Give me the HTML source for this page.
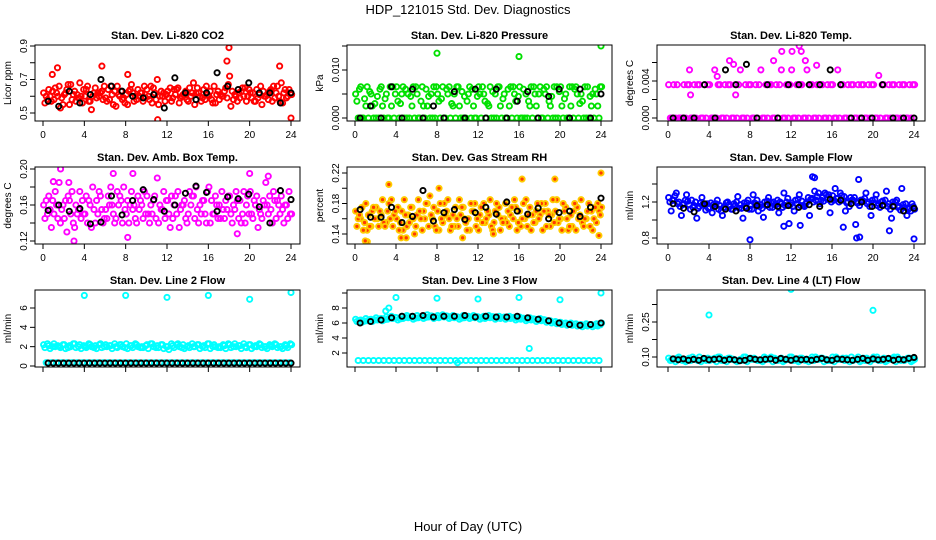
<!DOCTYPE html>
<html><head><meta charset="utf-8">
<style>
html,body{margin:0;padding:0;background:#fff;}
svg{display:block;font-family:"Liberation Sans",sans-serif;}
</style></head>
<body>
<svg id="chart" width="936" height="540" viewBox="0 0 936 540" xmlns="http://www.w3.org/2000/svg">
<rect width="936" height="540" fill="#fff"/>
<text x="468" y="14" text-anchor="middle" font-size="13">HDP_121015  Std. Dev. Diagnostics</text>
<text x="468" y="531" text-anchor="middle" font-size="13">Hour of Day (UTC)</text>
</svg>
<script>
// ---- Data ----
const xTicks = [0,4,8,12,16,20,24];
const xTickLabels = ["0","4","8","12","16","20","24"];

const co2A = [0.62,0.64,0.58,0.66,0.61,0.55,0.63,0.68,0.60,0.57,0.65,0.62,0.59,0.66,0.54,0.63,0.61,0.67,0.58,0.62,0.64,0.56,0.70,0.60,0.63,0.59,0.65,0.61,0.57,0.68,0.62,0.64,0.60,0.66,0.58,0.63,0.72,0.61,0.59,0.65,0.62,0.57,0.66,0.60,0.64,0.62,0.68,0.59,0.61];
const co2B = [0.56,0.60,0.65,0.53,0.62,0.67,0.57,0.60,0.64,0.52,0.59,0.63,0.57,0.61,0.66,0.58,0.55,0.62,0.64,0.57,0.60,0.65,0.55,0.62,0.59,0.64,0.56,0.61,0.65,0.55,0.60,0.58,0.63,0.56,0.61,0.65,0.54,0.60,0.63,0.57,0.59,0.64,0.55,0.61,0.57,0.66,0.56,0.60,0.63];
const co2C = [0.60,0.57,0.62,0.59,0.64,0.58,0.61,0.56,0.66,0.60,0.62,0.58,0.64,0.55,0.61,0.59,0.63,0.57,0.60,0.66,0.58,0.62,0.60,0.57,0.65,0.61,0.59,0.63,0.60,0.62,0.57,0.66,0.58,0.61,0.60,0.59,0.63,0.57,0.65,0.60,0.62,0.59,0.63,0.58,0.66,0.60,0.62,0.64,0.57];
const co2D = [0.58,0.63,0.60,0.55,0.67,0.61,0.59,0.64,0.57,0.62,0.60,0.66,0.58,0.63,0.60,0.56,0.64,0.60,0.62,0.59,0.66,0.58,0.63,0.61,0.57,0.64,0.60,0.58,0.62,0.65,0.59,0.61,0.56,0.63,0.60,0.67,0.58,0.62,0.60,0.64,0.57,0.61,0.60,0.63,0.59,0.57,0.64,0.62,0.60];
const co2OutX = [1.4,5.7,17.8,18.0,11.1,24.0,22.9,0.9,8.2];
const co2OutY = [0.77,0.78,0.81,0.89,0.46,0.47,0.78,0.73,0.73];
const co2Black = [0.57,0.54,0.63,0.56,0.61,0.70,0.66,0.63,0.60,0.59,0.61,0.53,0.71,0.62,0.58,0.62,0.74,0.66,0.64,0.68,0.62,0.62,0.56,0.62];

const presA = [0.005,0.0065,0.0025,0.005,0,0.0065,0.005,0.0025,0.0065,0.005,0,0.0025,0.005,0.0065,0.0025,0,0.005,0.0065,0.005,0.0025,0.0065,0,0.005,0.0025,0.0065,0.005,0.0025,0,0.0065,0.005,0.0025,0.005,0.0065,0,0.0025,0.005,0.0065,0.005,0.0025,0,0.0065,0.005,0.0025,0.0065,0.005,0,0.0025,0.005,0.0065];
const presB = [0.0035,0,0.0065,0.0025,0.0045,0.0025,0,0.0065,0.0035,0.0065,0.005,0.0065,0,0.0025,0.0045,0.0065,0.0035,0,0.0065,0.005,0.0025,0.0045,0.0065,0,0.005,0.0035,0.0065,0.005,0.0025,0,0.0065,0.0035,0,0.005,0.0065,0.0025,0,0.0065,0.0045,0.0065,0.0025,0,0.0065,0.005,0.0035,0.0065,0.005,0.0025,0];
const presC = [0,0,0,0,0,0,0,0,0,0,0,0,0,0,0,0,0,0,0,0,0,0,0,0,0,0,0,0,0,0,0,0,0,0,0,0,0,0,0,0,0,0,0,0,0,0,0,0,0];
const presD = [0.006,0.004,0.0055,0.003,0.006,0.004,0.0065,0.005,0.003,0.006,0.0045,0.0065,0.0035,0.006,0.005,0.0065,0.004,0.006,0.003,0.0065,0.0055,0.0035,0.006,0.0045,0.0065,0.003,0.0055,0.0065,0.004,0.006,0.0065,0.0045,0.006,0.0035,0.0065,0.005,0.006,0.0035,0.0065,0.0055,0.004,0.0065,0.006,0.003,0.0065,0.0045,0.006,0.0065,0.004];
const presOutX = [8,16,24];
const presOutY = [0.0135,0.0128,0.015];
const presBlack = [0,0.0025,0,0.0065,0,0.006,0,0.0025,0,0.0055,0,0.006,0,0.006,0,0.0035,0.0055,0,0.0045,0.006,0,0.006,0,0.005];

const tempA = [0.0036,0.0036,0,0.0036,0.0036,0.0036,0.0036,0.0036,0.0036,0.0052,0.0036,0.0036,0.0036,0.0036,0.0052,0.0036,0.0036,0.0036,0.0052,0.0036,0.0036,0.0036,0.0052,0.0036,0.0052,0.0036,0.0036,0.0052,0.0036,0.0036,0.0036,0.0036,0.0036,0.0052,0.0036,0.0036,0.0036,0.0036,0.0036,0.0036,0.0036,0.0046,0.0036,0.0036,0.0036,0.0036,0.0036,0.0036,0.0036];
const tempB = [0,0,0,0,0,0,0,0,0,0,0,0,0,0,0,0,0,0,0,0,0,0,0,0,0,0,0,0,0,0,0,0,0,0,0,0,0,0,0,0,0,0,0,0,0,0,0,0,0];
const tempC = [0,0.0036,0,0.0036,0,0.0036,0,0.0036,0,0.0036,0,0.0036,0,0.0036,0,0.0036,0,0.0036,0,0.0036,0,0.0036,0,0.0036,0,0.0036,0,0.0036,0,0.0036,0,0.0036,0,0.0036,0,0.0036,0,0.0036,0,0.0036,0,0.0036,0,0.0036,0,0.0036,0,0.0036,0];
const tempOutX = [2.1,2.2,6.0,6.4,9.3,10.3,11.1,12.1,12.8,13.0,13.4,14.5,4.8,6.6];
const tempOutY = [0.0052,0.0025,0.0062,0.0058,0.0085,0.0062,0.0072,0.0072,0.0078,0.0072,0.0062,0.0057,0.0045,0.0025];
const tempBlack = [0,0,0,0.0036,0,0.0052,0.0036,0.0058,0,0.0036,0,0.0036,0.0036,0.0036,0.0036,0.0052,0.0036,0,0,0,0.0036,0,0,0];

const ambA = [0.160,0.170,0.150,0.185,0.145,0.165,0.135,0.175,0.150,0.160,0.140,0.170,0.155,0.180,0.145,0.165,0.150,0.175,0.140,0.160,0.170,0.150,0.190,0.155,0.165,0.145,0.175,0.160,0.150,0.170,0.140,0.165,0.180,0.150,0.160,0.145,0.170,0.155,0.165,0.140,0.175,0.160,0.150,0.185,0.155,0.145,0.170,0.160,0.150];
const ambB = [0.145,0.155,0.175,0.140,0.165,0.150,0.160,0.145,0.170,0.135,0.165,0.155,0.145,0.160,0.175,0.140,0.165,0.155,0.170,0.145,0.150,0.165,0.140,0.175,0.150,0.160,0.135,0.165,0.175,0.145,0.160,0.150,0.140,0.170,0.145,0.165,0.150,0.175,0.140,0.160,0.150,0.170,0.145,0.160,0.140,0.165,0.155,0.145,0.170];
const ambC = [0.165,0.135,0.160,0.155,0.130,0.175,0.150,0.165,0.140,0.180,0.150,0.140,0.170,0.150,0.160,0.180,0.140,0.160,0.155,0.175,0.140,0.170,0.160,0.145,0.135,0.170,0.155,0.145,0.160,0.180,0.150,0.140,0.165,0.160,0.175,0.155,0.140,0.165,0.150,0.170,0.145,0.135,0.165,0.150,0.175,0.160,0.140,0.175,0.160];
const ambD = [0.150,0.165,0.145,0.160,0.170,0.140,0.155,0.150,0.165,0.155,0.175,0.145,0.160,0.140,0.170,0.155,0.160,0.145,0.165,0.150,0.160,0.145,0.155,0.165,0.170,0.150,0.160,0.140,0.170,0.155,0.165,0.175,0.150,0.145,0.155,0.170,0.160,0.145,0.175,0.150,0.165,0.155,0.160,0.170,0.165,0.150,0.160,0.150,0.140];
const ambOutX = [1.7,3.0,8.2,6.8,8.7,20.0,18.8,1.0,2.5,21.8];
const ambOutY = [0.200,0.120,0.124,0.195,0.195,0.195,0.128,0.186,0.185,0.192];
const ambBlack = [0.154,0.160,0.153,0.156,0.139,0.141,0.170,0.149,0.165,0.177,0.166,0.153,0.160,0.173,0.181,0.174,0.153,0.169,0.167,0.172,0.158,0.140,0.176,0.166];

const rhA = [0.170,0.160,0.180,0.150,0.175,0.165,0.155,0.185,0.160,0.170,0.150,0.175,0.165,0.145,0.180,0.160,0.170,0.155,0.185,0.165,0.150,0.175,0.160,0.170,0.145,0.180,0.165,0.155,0.175,0.160,0.150,0.185,0.170,0.160,0.175,0.155,0.165,0.180,0.150,0.170,0.160,0.175,0.165,0.145,0.185,0.160,0.170,0.155,0.175];
const rhB = [0.150,0.175,0.145,0.170,0.160,0.185,0.170,0.150,0.175,0.145,0.165,0.160,0.185,0.170,0.150,0.175,0.145,0.180,0.160,0.150,0.185,0.160,0.145,0.180,0.165,0.155,0.185,0.170,0.145,0.180,0.165,0.175,0.150,0.185,0.145,0.170,0.180,0.150,0.165,0.185,0.145,0.160,0.150,0.175,0.155,0.170,0.145,0.180,0.160];
const rhC = [0.160,0.145,0.165,0.175,0.150,0.155,0.180,0.165,0.145,0.185,0.155,0.140,0.170,0.160,0.190,0.150,0.180,0.165,0.145,0.175,0.165,0.155,0.180,0.150,0.175,0.160,0.150,0.180,0.160,0.155,0.175,0.145,0.160,0.150,0.165,0.180,0.145,0.170,0.185,0.155,0.180,0.145,0.170,0.160,0.150,0.180,0.160,0.170,0.185];
const rhD = [0.165,0.155,0.150,0.160,0.170,0.150,0.160,0.170,0.155,0.165,0.175,0.150,0.160,0.180,0.165,0.145,0.160,0.170,0.150,0.160,0.175,0.145,0.170,0.160,0.155,0.170,0.145,0.165,0.155,0.170,0.160,0.155,0.180,0.165,0.155,0.160,0.170,0.165,0.155,0.160,0.170,0.150,0.180,0.165,0.160,0.150,0.175,0.165,0.150];
const rhOutX = [1.2,1.0,3.3,4.5,5.0,16.3,19.5,23.8,24.0,8.2,10.5,13.5];
const rhOutY = [0.130,0.131,0.205,0.135,0.135,0.212,0.212,0.138,0.220,0.200,0.135,0.140];
const rhBlack = [0.172,0.162,0.162,0.175,0.155,0.163,0.197,0.157,0.168,0.172,0.159,0.168,0.175,0.166,0.182,0.170,0.166,0.174,0.160,0.168,0.170,0.163,0.175,0.187];

const flowA = [1.25,1.22,1.20,1.18,1.17,1.16,1.15,1.16,1.14,1.15,1.16,1.14,1.15,1.16,1.17,1.15,1.16,1.18,1.17,1.16,1.19,1.17,1.18,1.20,1.19,1.18,1.21,1.20,1.24,1.26,1.25,1.23,1.27,1.24,1.22,1.20,1.22,1.19,1.21,1.20,1.19,1.18,1.17,1.18,1.16,1.15,1.14,1.13,1.12];
const flowB = [1.20,1.27,1.15,1.22,1.12,1.20,1.19,1.11,1.19,1.18,1.10,1.19,1.12,1.20,1.13,1.19,1.12,1.22,1.13,1.21,1.14,1.22,1.14,1.24,1.15,1.23,1.16,1.25,1.20,1.30,1.21,1.28,1.22,1.20,1.26,1.15,1.25,1.16,1.24,1.15,1.23,1.14,1.22,1.12,1.20,1.11,1.18,1.10,1.15];
const flowC = [1.10,1.30,1.05,1.28,1.22,1.02,1.25,1.18,1.08,1.22,1.05,1.20,1.12,1.26,1.02,1.22,1.28,1.10,1.03,1.25,1.20,1.08,1.30,0.96,1.10,1.28,1.15,1.05,1.32,1.18,1.30,1.08,1.35,1.30,1.10,1.25,0.95,1.22,1.30,1.05,1.28,1.20,1.32,1.02,1.22,1.35,1.05,1.18,1.03];
const flowD = [1.22,1.18,1.17,1.21,1.14,1.13,1.18,1.13,1.17,1.12,1.14,1.17,1.18,1.13,1.19,1.12,1.19,1.15,1.20,1.14,1.17,1.20,1.16,1.17,1.22,1.16,1.18,1.23,1.22,1.22,1.28,1.20,1.24,1.27,1.19,1.22,1.19,1.22,1.18,1.22,1.16,1.21,1.15,1.20,1.14,1.17,1.12,1.15,1.10];
const flowOutX = [8.0,14.1,14.3,18.6,18.4,18.7,24.0,21.6,17.1,11.3,12.9];
const flowOutY = [0.78,1.48,1.47,1.45,0.80,0.81,0.79,0.88,0.92,0.93,0.94];
const flowBlack = [1.18,1.13,1.09,1.18,1.15,1.12,1.10,1.13,1.16,1.17,1.15,1.16,1.14,1.17,1.15,1.23,1.22,1.18,1.20,1.15,1.16,1.15,1.10,1.13];

const l2A = [2.2,2.1,2.3,2.0,2.2,2.1,2.3,2.2,2.0,2.2,2.1,2.3,2.2,2.1,2.0,2.2,2.3,2.1,2.2,2.0,2.2,2.3,2.1,2.2,2.0,2.1,2.3,2.2,2.1,2.0,2.2,2.1,2.3,2.2,2.0,2.1,2.2,2.3,2.1,2.0,2.2,2.1,2.2,2.0,2.1,2.2,2.0,2.1,2.2];
const l2B = [1.9,1.8,2.0,1.9,1.8,2.0,1.9,1.8,1.9,2.0,1.8,1.9,2.0,1.8,1.9,2.0,1.8,1.9,2.0,1.9,1.8,2.0,1.9,1.8,1.7,1.9,2.0,1.8,1.9,2.0,1.8,1.9,1.8,2.0,1.9,1.8,1.9,2.0,1.8,1.9,1.8,2.0,1.9,1.8,2.0,1.9,1.8,1.9,1.8];
const l2C = [0.35,0.35,0.35,0.35,0.35,0.35,0.35,0.35,0.35,0.35,0.35,0.35,0.35,0.35,0.35,0.35,0.35,0.35,0.35,0.35,0.35,0.35,0.35,0.35,0.35,0.35,0.35,0.35,0.35,0.35,0.35,0.35,0.35,0.35,0.35,0.35,0.35,0.35,0.35,0.35,0.35,0.35,0.35,0.35,0.35,0.35,0.35,0.35,0.35];
const l2D = [2.3,2.0,2.1,2.2,1.9,2.3,2.0,2.1,2.3,1.9,2.2,2.0,2.1,2.3,2.2,1.9,2.1,2.3,1.9,2.1,2.3,1.9,2.2,2.0,2.3,2.2,1.9,2.0,2.3,2.2,2.0,2.3,2.0,1.9,2.2,2.3,2.0,2.1,2.3,2.2,2.0,2.3,2.0,2.2,2.3,2.0,2.2,2.3,2.0];
const l2OutX = [4,8,12,16,20,24];
const l2OutY = [7.3,7.3,7.1,7.3,6.9,7.6];
const l2Black = [0.3,0.3,0.3,0.3,0.3,0.3,0.3,0.3,0.3,0.3,0.3,0.3,0.3,0.3,0.3,0.3,0.3,0.3,0.3,0.3,0.3,0.3,0.3,0.3,0.3,0.3,0.3,0.3,0.3,0.3,0.3,0.3,0.3,0.3,0.3,0.3,0.3,0.3,0.3,0.3,0.3,0.3,0.3,0.3,0.3,0.3,0.3,0.3];

const l3A = [6.5,6.4,6.6,6.5,6.7,6.6,6.8,6.9,6.7,6.9,7.0,6.8,7.0,6.9,7.1,6.9,7.0,7.1,6.9,7.0,6.8,7.0,6.9,7.0,6.8,6.9,7.0,6.8,6.9,6.8,6.9,6.7,6.8,6.6,6.7,6.5,6.6,6.4,6.3,6.2,6.1,6.0,6.0,5.9,5.8,5.9,5.8,5.9,6.0];
const l3B = [6.2,6.1,6.3,6.2,6.4,6.3,6.5,6.6,6.4,6.6,6.7,6.5,6.7,6.6,6.8,6.6,6.7,6.8,6.6,6.7,6.5,6.7,6.6,6.7,6.5,6.6,6.7,6.5,6.6,6.5,6.6,6.4,6.5,6.3,6.4,6.2,6.3,6.1,6.0,5.9,5.8,5.7,5.7,5.6,5.5,5.6,5.5,5.6,5.7];
const l3C = [1.0,1.0,1.0,1.0,1.0,1.0,1.0,1.0,1.0,1.0,1.0,1.0,1.0,1.0,1.0,1.0,1.0,1.0,1.0,1.0,1.0,1.0,1.0,1.0,1.0,1.0,1.0,1.0,1.0,1.0,1.0,1.0,1.0,1.0,1.0,1.0,1.0,1.0,1.0,1.0,1.0,1.0,1.0,1.0,1.0,1.0,1.0,1.0,1.0];
const l3D = [6.35,6.25,6.45,6.4,6.55,6.45,6.65,6.75,6.55,6.75,6.85,6.65,6.85,6.75,6.95,6.75,6.85,6.95,6.75,6.85,6.65,6.85,6.75,6.85,6.65,6.75,6.85,6.65,6.75,6.65,6.75,6.55,6.65,6.45,6.55,6.35,6.45,6.25,6.15,6.05,5.95,5.85,5.85,5.75,5.65,5.75,5.65,5.75,5.85];
const l3OutX = [4,8,12,16,20,24,17,3.3,3.0,10];
const l3OutY = [9.4,9.3,9.2,9.4,9.1,10.0,2.6,8.0,7.6,0.7];
const l3Black = [6.0,6.2,6.4,6.7,6.9,6.9,7.0,6.8,6.9,6.9,7.0,6.8,6.9,6.8,6.8,6.9,6.7,6.5,6.3,6.0,5.8,5.7,5.8,6.0];

const l4A = [0.095,0.09,0.10,0.085,0.095,0.09,0.10,0.09,0.085,0.095,0.10,0.09,0.095,0.085,0.09,0.10,0.095,0.09,0.085,0.095,0.10,0.09,0.095,0.09,0.10,0.085,0.095,0.09,0.10,0.09,0.095,0.085,0.10,0.09,0.095,0.09,0.085,0.10,0.095,0.09,0.10,0.085,0.095,0.09,0.10,0.09,0.085,0.095,0.09];
const l4B = [0.085,0.08,0.09,0.08,0.085,0.09,0.08,0.085,0.09,0.08,0.085,0.08,0.09,0.08,0.085,0.08,0.09,0.085,0.08,0.09,0.08,0.085,0.08,0.09,0.085,0.08,0.09,0.08,0.085,0.09,0.08,0.085,0.08,0.09,0.085,0.08,0.09,0.08,0.085,0.08,0.09,0.085,0.08,0.09,0.08,0.085,0.09,0.08,0.085];
const l4C = [0.09,0.095,0.085,0.09,0.1,0.085,0.09,0.095,0.09,0.1,0.085,0.095,0.09,0.085,0.1,0.09,0.095,0.085,0.1,0.09,0.095,0.09,0.085,0.1,0.09,0.095,0.085,0.09,0.1,0.095,0.09,0.085,0.1,0.09,0.095,0.1,0.09,0.085,0.095,0.09,0.1,0.09,0.085,0.095,0.1,0.09,0.095,0.085,0.09];
const l4OutX = [4,12,20];
const l4OutY = [0.28,0.39,0.30];
const l4Black = [0.092,0.088,0.092,0.086,0.09,0.086,0.094,0.088,0.09,0.092,0.086,0.09,0.088,0.084,0.086,0.094,0.09,0.088,0.09,0.092,0.086,0.094,0.09,0.086,0.092,0.088,0.09,0.086,0.09,0.094,0.088,0.086,0.092,0.09,0.088,0.086,0.09,0.094,0.086,0.092,0.088,0.09,0.094,0.086,0.09,0.088,0.094,0.098];

// ---- Layout ----
const cols = [{L:35,R:300,x0:43,x24:291},{L:347,R:612,x0:355,x24:601},{L:657,R:925,x0:668,x24:914}];
const rows = [{T:45,B:121},{T:167,B:244},{T:290,B:367}];
const panels = [
 {name:"co2",title:"Stan. Dev. Li-820 CO2",ylab:"Licor ppm",c:0,r:0,ref:[0.5,113,0.9,46],ticks:[0.5,0.6,0.7,0.8,0.9],tl:["0.5","","0.7","","0.9"],col:"#ff0000",fill:"none",series:[co2A,co2B,co2C,co2D],ox:co2OutX,oy:co2OutY,blk:co2Black,xl:true},
 {name:"pressure",title:"Stan. Dev. Li-820 Pressure",ylab:"kPa",c:1,r:0,ref:[0,118,0.01,70],ticks:[0,0.005,0.01,0.015],tl:["0.000","","0.010",""],col:"#00e000",fill:"none",series:[presA,presB,presC,presD],ox:presOutX,oy:presOutY,blk:presBlack,xl:true},
 {name:"temp",title:"Stan. Dev. Li-820 Temp.",ylab:"degrees C",c:2,r:0,ref:[0,118,0.004,81],ticks:[0,0.002,0.004,0.006],tl:["0.000","","0.004",""],col:"#ff00ff",fill:"none",series:[tempA,tempB,tempC],ox:tempOutX,oy:tempOutY,blk:tempBlack,xl:true},
 {name:"amb-box",title:"Stan. Dev. Amb. Box Temp.",ylab:"degrees C",c:0,r:1,ref:[0.12,241,0.2,169],ticks:[0.12,0.14,0.16,0.18,0.2],tl:["0.12","","0.16","","0.20"],col:"#ff00ff",fill:"none",series:[ambA,ambB,ambC,ambD],ox:ambOutX,oy:ambOutY,blk:ambBlack,xl:true},
 {name:"gas-rh",title:"Stan. Dev. Gas Stream RH",ylab:"percent",c:1,r:1,ref:[0.14,234,0.22,173],ticks:[0.14,0.16,0.18,0.2,0.22],tl:["0.14","","0.18","","0.22"],col:"#ffcc00",fill:"#ff3a00",series:[rhA,rhB,rhC,rhD],ox:rhOutX,oy:rhOutY,blk:rhBlack,xl:true},
 {name:"sample-flow",title:"Stan. Dev. Sample Flow",ylab:"ml/min",c:2,r:1,ref:[0.8,238,1.2,202],ticks:[0.8,1.0,1.2,1.4],tl:["0.8","","1.2",""],col:"#0000ff",fill:"none",series:[flowA,flowB,flowC,flowD],ox:flowOutX,oy:flowOutY,blk:flowBlack,xl:true},
 {name:"line2",title:"Stan. Dev. Line 2 Flow",ylab:"ml/min",c:0,r:2,ref:[0,366,6,308],ticks:[0,2,4,6],tl:["0","2","4","6"],col:"#00ffff",fill:"none",series:[l2A,l2B,l2C,l2D],ox:l2OutX,oy:l2OutY,blk:l2Black,xl:false},
 {name:"line3",title:"Stan. Dev. Line 3 Flow",ylab:"ml/min",c:1,r:2,ref:[2,353,8,308],ticks:[2,4,6,8,10],tl:["2","4","6","8",""],col:"#00ffff",fill:"none",series:[l3A,l3B,l3C,l3D],ox:l3OutX,oy:l3OutY,blk:l3Black,xl:false},
 {name:"line4",title:"Stan. Dev. Line 4 (LT) Flow",ylab:"ml/min",c:2,r:2,ref:[0.10,357,0.25,322],ticks:[0.10,0.175,0.25,0.325],tl:["0.10","","0.25",""],col:"#00ffff",fill:"none",series:[l4A,l4B,l4C],ox:l4OutX,oy:l4OutY,blk:l4Black,xl:false}
];

const NS = "http://www.w3.org/2000/svg";
const svg = document.getElementById('chart');
function mk(tag, attrs, parent){const e=document.createElementNS(NS,tag);for(const k in attrs)e.setAttribute(k,attrs[k]);(parent||svg).appendChild(e);return e;}

panels.forEach(p=>{
  const C=cols[p.c], R=rows[p.r];
  const xs = h => C.x0 + h/24*(C.x24-C.x0);
  const [v1,p1,v2,p2]=p.ref;
  const ys = v => p1 + (v-v1)*(p2-p1)/(v2-v1);
  const g = mk('g',{});
  
  
  const clipId='clip-'+p.name;
  const cp=mk('clipPath',{id:clipId},g);
  mk('rect',{x:C.L,y:R.T,width:C.R-C.L,height:R.B-R.T},cp);
  const t=mk('text',{x:(C.L+C.R)/2,y:R.T-6,'text-anchor':'middle','font-size':11,'font-weight':'bold'},g);
  t.textContent=p.title;
  
  
  const yl=mk('text',{x:0,y:0,'text-anchor':'middle','font-size':10,transform:`translate(${C.L-24},${(R.T+R.B)/2}) rotate(-90)`},g);
  yl.textContent=p.ylab;
  
  
  const pts=mk('g',{'clip-path':`url(#${clipId})`},g);
  
  
  const ns=p.series.length;
  p.series.forEach((s,si)=>{
    s.forEach((v,i)=>{
      const h=i*0.5+si*(0.5/ns)+0.06;
      if(h>24.1) return;
      const c=mk('circle',{cx:xs(h),cy:ys(v),r:2.6,fill:p.fill,stroke:p.col,'stroke-width':1.9},pts);
      
      
    });
  });
  p.ox.forEach((h,i)=>{
    const c=mk('circle',{cx:xs(h),cy:ys(p.oy[i]),r:2.6,fill:p.fill,stroke:p.col,'stroke-width':1.9},pts);
    
    
  });
  const n=p.blk.length;
  p.blk.forEach((v,i)=>{
    const h=0.5+i*23.5/(n-1);
    const c=mk('circle',{cx:xs(h),cy:ys(v),r:2.6,fill:'none',stroke:'#000','stroke-width':1.9},pts);
    
    
  });
  const b=mk('rect',{x:C.L,y:R.T,width:C.R-C.L,height:R.B-R.T,fill:'none',stroke:'#000','stroke-width':1},g);
  
  
  xTicks.forEach((h,i)=>{
    mk('line',{x1:xs(h),x2:xs(h),y1:R.B,y2:R.B+5,stroke:'#000'},g);
    if(p.xl){
      const tx=mk('text',{x:xs(h),y:R.B+17,'text-anchor':'middle','font-size':10},g);
      tx.textContent=xTickLabels[i];
      
      
    }
  });
  p.ticks.forEach((v,i)=>{
    const y=ys(v);
    if(y<R.T-1||y>R.B+1) return;
    mk('line',{x1:C.L,x2:C.L-5,y1:y,y2:y,stroke:'#000'},g);
    if(p.tl[i]){
      const ty=mk('text',{x:0,y:0,'text-anchor':'middle','font-size':10,transform:`translate(${C.L-8},${y}) rotate(-90)`},g);
      ty.textContent=p.tl[i];
      
      
    }
  });
});
</script>
</body></html>
